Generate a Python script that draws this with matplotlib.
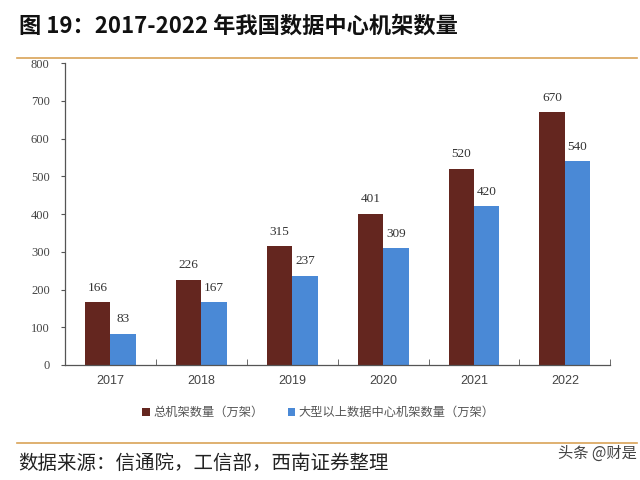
import matplotlib
matplotlib.use("Agg")
import matplotlib.pyplot as plt
import numpy as np

years = ["2017", "2018", "2019", "2020", "2021", "2022"]
total_racks = [166, 226, 315, 401, 520, 670]
large_racks = [83, 167, 237, 309, 420, 540]
yticks = [0, 100, 200, 300, 400, 500, 600, 700, 800]

CJK = ["Noto Sans CJK SC", "DejaVu Sans"]
SERIF = "Liberation Serif"
RED = "#64261f"
BLUE = "#4a89d6"
ORANGE = "#d9a357"

fig = plt.figure(figsize=(6.4, 4.8), dpi=100)
fig.patch.set_facecolor("white")

# title + rules
fig.text(0.03, 0.945, "图 19：2017-2022 年我国数据中心机架数量", family=CJK,
         fontsize=16, fontweight="bold", va="center", ha="left", color="#111111")
fig.add_artist(plt.Line2D([0.027, 0.995], [0.879, 0.879], color=ORANGE, lw=1.2))
fig.add_artist(plt.Line2D([0.027, 0.995], [0.077, 0.077], color=ORANGE, lw=1.2))

ax = fig.add_axes([0.1016, 0.2396, 0.852, 0.629])
x = np.arange(len(years))
w = 0.28
b1 = ax.bar(x - w / 2, total_racks, w, color=RED, label="总机架数量（万架）")
b2 = ax.bar(x + w / 2, large_racks, w, color=BLUE, label="大型以上数据中心机架数量（万架）")

for bars in (b1, b2):
    for b in bars:
        ax.text(b.get_x() + b.get_width() / 2, b.get_height() + 22,
                f"{b.get_height():.0f}", ha="center", va="bottom",
                family=SERIF, fontsize=9.5, color="#333333")

ax.set_xlim(-0.5, len(years) - 0.5)
ax.set_ylim(0, 800)
ax.set_yticks(yticks)
ax.set_yticklabels([str(t) for t in yticks], family=SERIF, fontsize=9, color="#444444")
ax.set_xticks(x)
ax.set_xticklabels(years, family="Liberation Sans", fontsize=9, color="#444444")
ax.set_xticks(np.arange(-0.5, len(years)), minor=True)
ax.tick_params(axis="x", which="major", length=0, pad=7)
ax.tick_params(axis="x", which="minor", length=4, direction="in", color="#555555")
ax.tick_params(axis="y", length=3, direction="out", color="#555555", pad=8)
for s in ("top", "right"):
    ax.spines[s].set_visible(False)
for s in ("left", "bottom"):
    ax.spines[s].set_color("#555555")
    ax.spines[s].set_linewidth(0.9)
ax.set_facecolor("white")

leg = ax.legend(loc="upper center", bbox_to_anchor=(0.465, -0.1), ncol=2, frameon=False,
                prop={"family": CJK, "size": 8.8}, handlelength=0.6, handleheight=0.6,
                columnspacing=2.0, handletextpad=0.3)
for t in leg.get_texts():
    t.set_color("#555555")

fig.text(0.028, 0.035, "数据来源：信通院，工信部，西南证券整理", family=CJK,
         fontsize=14, style="italic", va="center", ha="left", color="#222222")
fig.text(0.995, 0.055, "头条 @财是", family=CJK, fontsize=11, va="center",
         ha="right", color="#444444")

fig.savefig("out.png", dpi=100)
